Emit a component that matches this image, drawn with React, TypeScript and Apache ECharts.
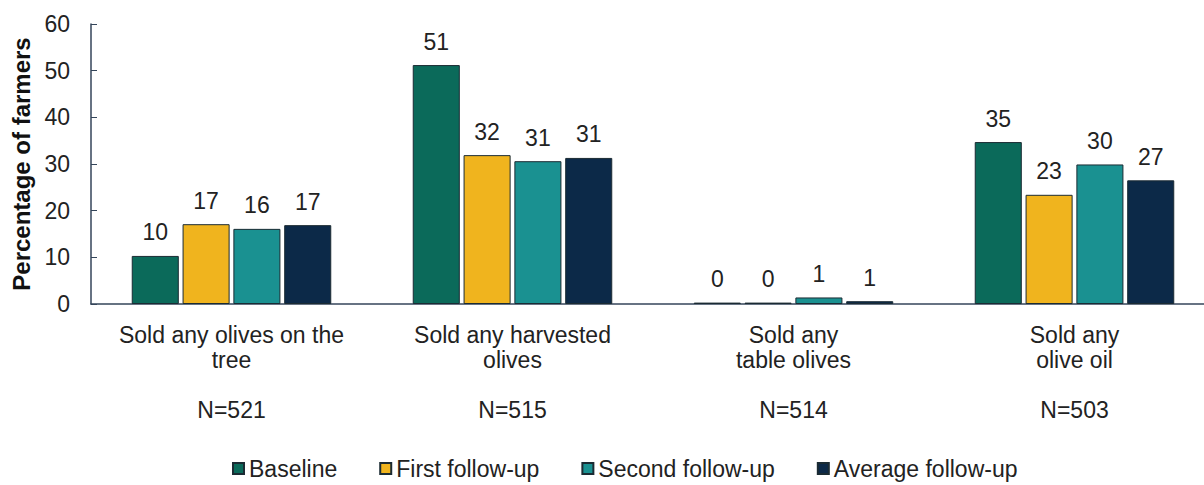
import React, { useEffect, useRef } from "react";
import * as echarts from "echarts";

const categories = [
  "Sold any olives on the\ntree\n\nN=521",
  "Sold any harvested\nolives\n\nN=515",
  "Sold any\ntable olives\n\nN=514",
  "Sold any\nolive oil\n\nN=503",
];
const seriesNames = ["Baseline", "First follow-up", "Second follow-up", "Average follow-up"];
const baseline = [10.3, 51.2, 0.3, 34.7];
const firstFollowUp = [17.1, 31.9, 0.3, 23.4];
const secondFollowUp = [16.1, 30.6, 1.4, 29.9];
const averageFollowUp = [16.9, 31.3, 0.6, 26.5];
const yTicks = [0, 10, 20, 30, 40, 50, 60];

const colors = ["#0b6a5a", "#f0b41e", "#1a9191", "#0c2948"];
const FONT = "'Liberation Sans', Arial, sans-serif";

export default function App() {
  const ref = useRef<HTMLDivElement>(null);
  useEffect(() => {
    if (!ref.current) return;
    const chart = echarts.init(ref.current, undefined, { renderer: "svg" });
    const data = [baseline, firstFollowUp, secondFollowUp, averageFollowUp];
    chart.setOption({
      animation: false,
      textStyle: { fontFamily: FONT },
      grid: { left: 91, top: 24, height: 280, width: 1124, containLabel: false },
      legend: {
        left: 232,
        top: 457,
        padding: 0,
        icon: "rect",
        itemWidth: 11,
        itemHeight: 11,
        itemGap: 42,
        textStyle: { fontSize: 23, color: "#222", fontFamily: FONT },
        data: seriesNames,
      },
      xAxis: {
        type: "category",
        data: categories,
        axisLine: { lineStyle: { color: "#34455a", width: 1.5 } },
        axisTick: { show: false },
        axisLabel: {
          fontSize: 23,
          color: "#222",
          lineHeight: 25,
          margin: 18,
          interval: 0,
          fontFamily: FONT,
        },
      },
      yAxis: {
        type: "value",
        min: yTicks[0],
        max: yTicks[yTicks.length - 1],
        interval: 10,
        name: "Percentage of farmers",
        nameLocation: "middle",
        nameGap: 50,
        nameTextStyle: { fontSize: 24, fontWeight: "bold", color: "#111", fontFamily: FONT },
        splitLine: { show: false },
        axisLine: { show: true, lineStyle: { color: "#34455a", width: 1.5 } },
        axisTick: { show: true, inside: true, length: 6, lineStyle: { color: "#34455a" } },
        axisLabel: { fontSize: 23, color: "#222", margin: 21, fontFamily: FONT },
      },
      series: seriesNames.map((name, i) => ({
        name,
        type: "bar",
        data: data[i],
        barCategoryGap: "29%",
        barGap: "8%",
        itemStyle: { color: colors[i], borderColor: "#1b2b33", borderWidth: 1 },
        label: {
          show: true,
          position: "top",
          distance: 12,
          fontSize: 23,
          color: "#222",
          fontFamily: FONT,
          formatter: (p: any) => String(Math.round(p.value)),
        },
      })),
    });
    return () => chart.dispose();
  }, []);
  return (
    <div
      style={{
        position: "fixed",
        left: 0,
        top: 0,
        width: 1204,
        height: 485,
        overflow: "hidden",
        background: "#fff",
      }}
    >
      <div ref={ref} style={{ width: 1240, height: 485 }} />
    </div>
  );
}
